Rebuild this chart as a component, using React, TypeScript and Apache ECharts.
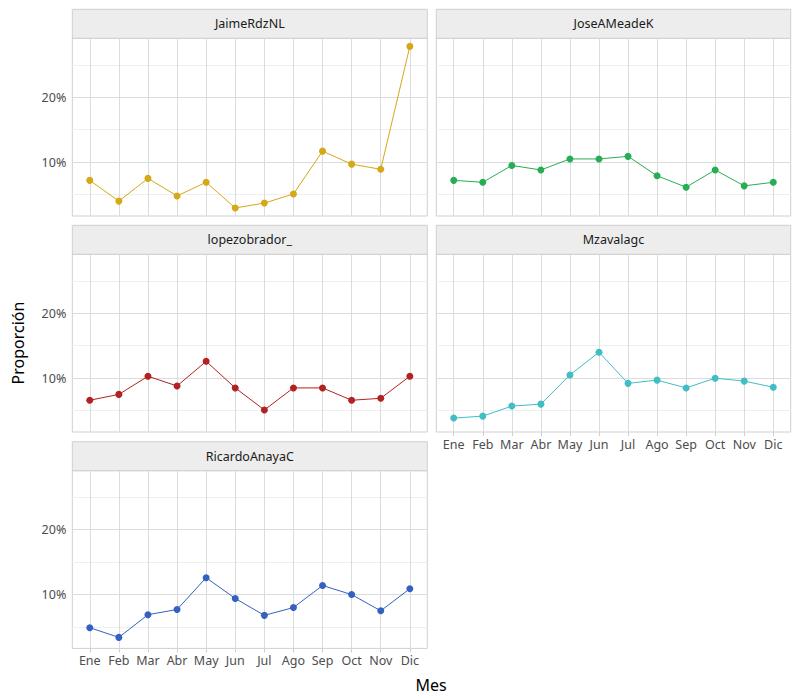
import React, { useEffect, useRef } from "react";
import * as echarts from "echarts";

const months = ["Ene", "Feb", "Mar", "Abr", "May", "Jun", "Jul", "Ago", "Sep", "Oct", "Nov", "Dic"];
const panelNames = ["JaimeRdzNL", "JoseAMeadeK", "lopezobrador_", "Mzavalagc", "RicardoAnayaC"];
const jaimeRdzNL = [7.2, 4.0, 7.5, 4.8, 6.9, 2.95, 3.7, 5.1, 11.7, 9.7, 8.9, 27.85];
const joseAMeadeK = [7.2, 6.9, 9.5, 8.8, 10.5, 10.5, 10.9, 7.9, 6.15, 8.8, 6.35, 6.9];
const lopezobrador = [6.6, 7.5, 10.3, 8.8, 12.6, 8.5, 5.1, 8.5, 8.5, 6.6, 6.9, 10.3];
const mzavalagc = [3.85, 4.15, 5.7, 6.0, 10.5, 14.0, 9.2, 9.7, 8.5, 10.0, 9.55, 8.6];
const ricardoAnayaC = [4.9, 3.4, 6.9, 7.7, 12.6, 9.4, 6.8, 8.0, 11.4, 10.0, 7.5, 10.9];
const seriesValues = [jaimeRdzNL, joseAMeadeK, lopezobrador, mzavalagc, ricardoAnayaC];
const seriesColors = ["#D4A817", "#27AE55", "#B22222", "#41BEC5", "#3461C1"];
const yMajorTicks = [10, 20];
const yMinorTicks = [5, 15, 25];

export default function App() {
  const ref = useRef<HTMLDivElement>(null);
  useEffect(() => {
    if (!ref.current) return;
    const chart = echarts.init(ref.current, null, { renderer: "svg" });
    const font = "Noto Sans";
    const all = seriesValues.flat();
    const dMin = Math.min(...all);
    const dMax = Math.max(...all);
    const span = dMax - dMin;
    const yMin = dMin - 0.05 * span;
    const yMax = dMax + 0.05 * span;
    const xIdx = months.map((_, i) => i);

    const colLeft = [72.3, 436.3];
    const colWidth = [355, 354.4];
    const rowTop = [38.3, 254.3, 470.7];
    const plotH = 177.7;
    const stripH = 29;

    const grids: any[] = [];
    const xAxes: any[] = [];
    const yAxes: any[] = [];
    const series: any[] = [];
    const graphics: any[] = [];

    panelNames.forEach((name, i) => {
      const col = i % 2;
      const row = Math.floor(i / 2);
      const left = colLeft[col];
      const top = rowTop[row];
      const w = colWidth[col];
      const showX = i >= 3;
      const showY = col === 0;
      grids.push({
        left, top, width: w, height: plotH,
        show: true, borderColor: "#CFCFCF", borderWidth: 1, backgroundColor: "transparent",
        containLabel: false,
      });
      xAxes.push({
        type: "value", gridIndex: i, min: -0.6, max: 11.6,
        splitLine: { show: false }, axisLine: { show: false },
        axisTick: { show: showX, customValues: xIdx, length: 4, lineStyle: { color: "#CFCFCF" } },
        axisLabel: {
          show: showX, customValues: xIdx, formatter: (v: number) => months[Math.round(v)] ?? "",
          color: "#4D4D4D", fontSize: 12.5, fontFamily: font, margin: 6,
        },
      });
      yAxes.push({
        type: "value", gridIndex: i, min: yMin, max: yMax,
        splitLine: { show: false }, axisLine: { show: false },
        axisTick: { show: showY, customValues: yMajorTicks, length: 4, lineStyle: { color: "#CFCFCF" } },
        axisLabel: {
          show: showY, customValues: yMajorTicks, formatter: (v: number) => `${Math.round(v)}%`,
          color: "#4D4D4D", fontSize: 12.5, fontFamily: font, margin: 6,
        },
      });
      const gridData: any[] = [];
      yMinorTicks.forEach((v) => gridData.push({ yAxis: v, lineStyle: { color: "#EFEFEF", width: 1, type: "solid" } }));
      yMajorTicks.forEach((v) => gridData.push({ yAxis: v, lineStyle: { color: "#DCDCDC", width: 1, type: "solid" } }));
      xIdx.forEach((v) => gridData.push({ xAxis: v, lineStyle: { color: "#DCDCDC", width: 1, type: "solid" } }));
      series.push({
        type: "line", xAxisIndex: i, yAxisIndex: i, data: [], silent: true, z: 1,
        markLine: { silent: true, symbol: "none", z: 1, label: { show: false }, animation: false, data: gridData },
      });
      series.push({
        name, type: "line", xAxisIndex: i, yAxisIndex: i, z: 3,
        data: seriesValues[i].map((v, j) => [j, v]),
        symbol: "circle", symbolSize: 7, showSymbol: true,
        color: seriesColors[i],
        itemStyle: { color: seriesColors[i] },
        lineStyle: { color: seriesColors[i], width: 1 },
      });
      graphics.push({
        type: "rect", shape: { x: left, y: top - stripH, width: w, height: stripH },
        style: { fill: "#EDEDED", stroke: "#CFCFCF", lineWidth: 1 }, z: 10,
      });
      graphics.push({
        type: "text", x: left + w / 2, y: top - stripH / 2,
        style: { text: name, fill: "#1A1A1A", fontSize: 12.5, fontFamily: font, align: "center", verticalAlign: "middle" },
        z: 11,
      });
    });

    graphics.push({
      type: "text", x: 431, y: 685,
      style: { text: "Mes", fill: "#000000", fontSize: 16, fontFamily: font, align: "center", verticalAlign: "middle" },
    });
    graphics.push({
      type: "text", x: 18, y: 343, rotation: Math.PI / 2,
      style: { text: "Proporción", fill: "#000000", fontSize: 16, fontFamily: font, align: "center", verticalAlign: "middle" },
    });

    chart.setOption({
      animation: false,
      backgroundColor: "#FFFFFF",
      grid: grids,
      xAxis: xAxes,
      yAxis: yAxes,
      series,
      graphic: graphics,
    });
    return () => chart.dispose();
  }, []);
  return (
    <div
      ref={ref}
      style={{ position: "fixed", left: 0, top: 0, width: 800, height: 700, background: "#fff" }}
    />
  );
}
